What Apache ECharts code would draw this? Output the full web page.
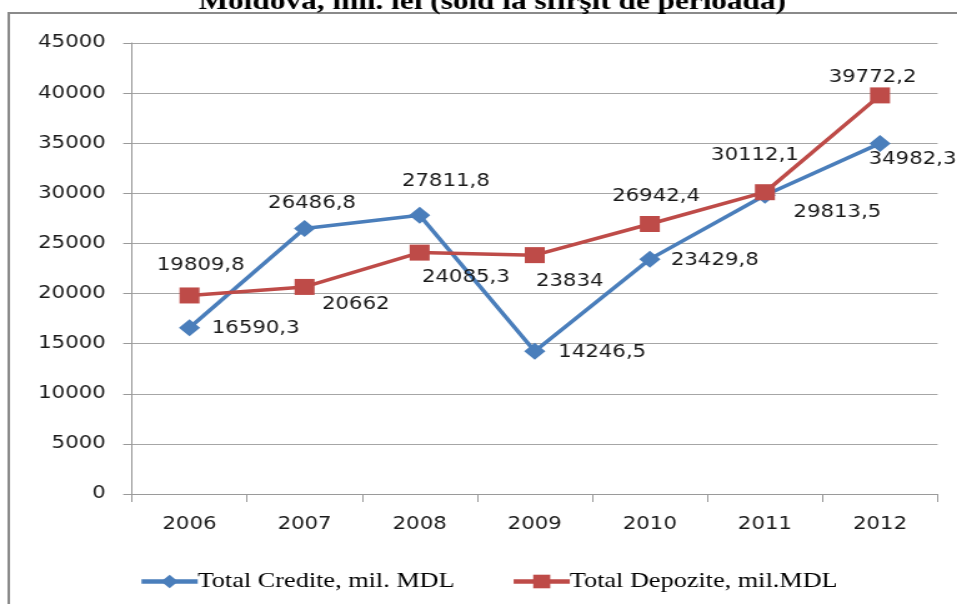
<!DOCTYPE html>
<html>
<head>
<meta charset="utf-8">
<script src="https://cdn.jsdelivr.net/npm/echarts@6/dist/echarts.min.js"></script>
<style>
html,body{margin:0;padding:0;background:#fff;overflow:hidden;width:957px;height:604px;}
#c{width:766px;height:604px;transform:scaleX(1.2494);transform-origin:0 0;}
</style>
</head>
<body>
<div id="c"></div>
<script>
// Data
var titleText = 'Moldova, mil. lei (sold la sfîrşit de perioadă)';
var categories = ['2006','2007','2008','2009','2010','2011','2012'];
var seriesNames = ['Total Credite, mil. MDL', 'Total Depozite, mil.MDL'];
var credite = [16590.3, 26486.8, 27811.8, 14246.5, 23429.8, 29813.5, 34982.3];
var depozite = [19809.8, 20662, 24085.3, 23834, 26942.4, 30112.1, 39772.2];
var yTicks = {min: 0, max: 45000, interval: 5000};

// Label placement (layout only)
var credOffsets = [[53,1],[6,-25],[21,-34],[54,1],[52,1],[58,17],[26,16]];
var depOffsets = [[9,-30],[41,18],[37,25],[28,26],[5,-27],[-8,-37],[-6,-18]];

function fmt(v){ return String(v).replace('.', ','); }
function build(vals, offs){
  return vals.map(function(v,i){
    return {value: v, label: {offset: offs[i]}};
  });
}

var chart = echarts.init(document.getElementById('c'), null, {renderer:'canvas'});
var labelStyle = {
  show: true, position: 'inside', align: 'center', verticalAlign: 'middle',
  fontFamily: 'DejaVu Sans', fontSize: 17, color: '#1a1a1a',
  formatter: function(p){ return fmt(p.value); }
};
chart.setOption({
  animation: false,
  backgroundColor: '#fff',
  graphic: [
    {type:'rect', shape:{x:7, y:13, width:900, height:700}, style:{fill:'none', stroke:'#8a8a8a', lineWidth:2}, z:0},
    {type:'text', x:394, y:3, style:{text:titleText, font:'bold 25px "Liberation Serif"', fill:'#000', align:'center', verticalAlign:'middle'}, z:10}
  ],
  grid: {left:105.6, right:15.6, top:43, bottom:110, containLabel:false},
  legend: {
    data: seriesNames, left: 106, top: 566, itemWidth: 45, itemHeight: 17, itemGap: 45,
    lineStyle: {width: 4.5},
    textStyle: {fontFamily:'Liberation Serif', fontSize:21, color:'#000', padding:[0,0,0,-5]}
  },
  xAxis: {
    type:'category', data: categories, boundaryGap:true,
    axisLine:{lineStyle:{color:'#9a9a9a', width:1}},
    axisTick:{show:true, length:8, lineStyle:{color:'#9a9a9a'}},
    axisLabel:{fontFamily:'DejaVu Sans', fontSize:17, color:'#1a1a1a', margin:22},
    splitLine:{show:false}
  },
  yAxis: {
    type:'value', min: yTicks.min, max: yTicks.max, interval: yTicks.interval,
    axisLine:{show:true, lineStyle:{color:'#9a9a9a', width:1}},
    axisTick:{show:true, length:7, lineStyle:{color:'#9a9a9a'}},
    axisLabel:{fontFamily:'DejaVu Sans', fontSize:17, color:'#1a1a1a', margin:21,
      formatter: function(v){ return String(v); }},
    splitLine:{show:true, lineStyle:{color:'#a6a6a6', width:1}}
  },
  series: [
    {name: seriesNames[0], type:'line', data: build(credite, credOffsets),
     symbol:'diamond', symbolSize:17, color:'#4A7EBB',
     lineStyle:{width:3.5, color:'#4A7EBB'}, itemStyle:{color:'#4A7EBB'},
     label: labelStyle, z:3},
    {name: seriesNames[1], type:'line', data: build(depozite, depOffsets),
     symbol:'rect', symbolSize:16, color:'#BE4B48',
     lineStyle:{width:3.5, color:'#BE4B48'}, itemStyle:{color:'#BE4B48'},
     label: labelStyle, z:4}
  ]
});
</script>
</body>
</html>
